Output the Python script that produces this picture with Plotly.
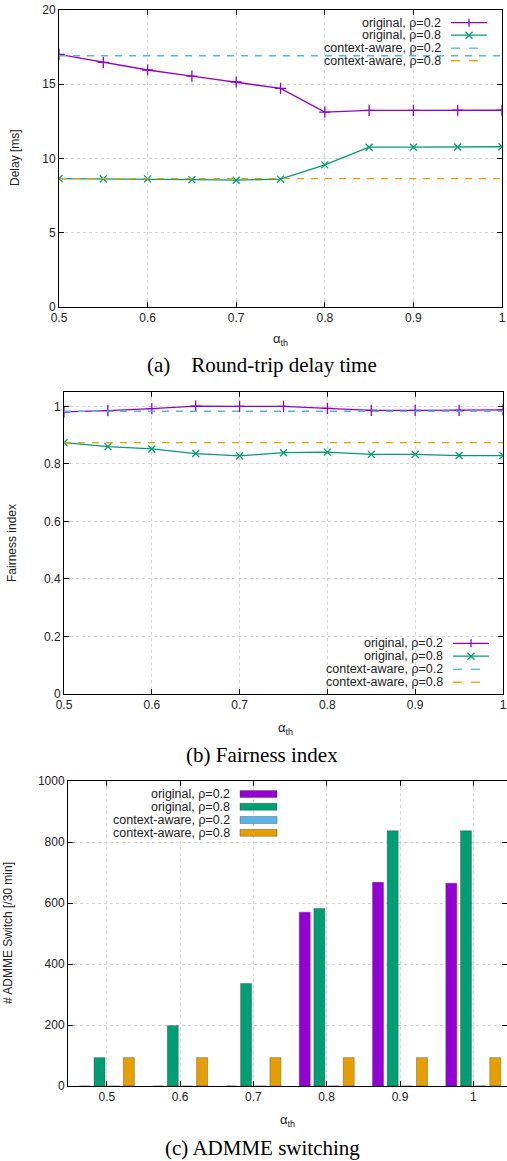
import plotly.graph_objects as go

# ---------------- data ----------------
alpha = [0.5, 0.55, 0.6, 0.65, 0.7, 0.75, 0.8, 0.85, 0.9, 0.95, 1.0]
alpha_ticks = [0.5, 0.6, 0.7, 0.8, 0.9, 1.0]
alpha_ticktext = ["0.5", "0.6", "0.7", "0.8", "0.9", "1"]

delay_orig_02 = [17.01, 16.47, 15.96, 15.55, 15.15, 14.72, 13.12, 13.24, 13.24, 13.25, 13.25]
delay_orig_08 = [8.65, 8.63, 8.63, 8.58, 8.54, 8.61, 9.57, 10.76, 10.76, 10.77, 10.79]
delay_ctx_02 = 16.92
delay_ctx_08 = 8.65

fair_orig_02 = [0.981, 0.985, 0.992, 1.001, 1.0, 1.0, 0.993, 0.986, 0.986, 0.986, 0.988]
fair_orig_08 = [0.874, 0.860, 0.852, 0.836, 0.828, 0.839, 0.841, 0.833, 0.833, 0.829, 0.829]
fair_ctx_02 = 0.983
fair_ctx_08 = 0.874

cats = ["0.5", "0.6", "0.7", "0.8", "0.9", "1"]
sw_orig_02 = [0, 0, 0, 570, 668, 665]
sw_orig_08 = [93, 198, 336, 582, 837, 837]
sw_ctx_02 = [0, 0, 0, 0, 0, 0]
sw_ctx_08 = [93, 93, 93, 93, 93, 93]

series_names = ["original, ρ=0.2", "original, ρ=0.8", "context-aware, ρ=0.2", "context-aware, ρ=0.8"]
PURPLE, GREEN, BLUE, ORANGE = "#9400D3", "#009E73", "#56B4E9", "#E69F00"

W, H = 507, 1161
def px(x):
    return x / W
def py(y):
    return 1 - y / H

SANS = "Liberation Sans, Arial, sans-serif"
SERIF = "Liberation Serif, Times New Roman, serif"
TXT = "#222222"

fig = go.Figure()

# ---------------- panel (a) ----------------
fig.add_trace(go.Scatter(x=alpha, y=delay_orig_02, mode="lines+markers", xaxis="x", yaxis="y",
                         line=dict(color=PURPLE, width=1.3),
                         marker=dict(symbol="cross-thin", size=8, line=dict(color=PURPLE, width=1.3)),
                         showlegend=False))
fig.add_trace(go.Scatter(x=alpha, y=delay_orig_08, mode="lines+markers", xaxis="x", yaxis="y",
                         line=dict(color=GREEN, width=1.3),
                         marker=dict(symbol="x-thin", size=7, line=dict(color=GREEN, width=1.3)),
                         showlegend=False))
fig.add_trace(go.Scatter(x=[alpha[0], alpha[-1]], y=[delay_ctx_02, delay_ctx_02], mode="lines",
                         xaxis="x", yaxis="y", line=dict(color=BLUE, width=1.3, dash="7px,7px"),
                         showlegend=False))
fig.add_trace(go.Scatter(x=[alpha[0], alpha[-1]], y=[delay_ctx_08, delay_ctx_08], mode="lines",
                         xaxis="x", yaxis="y", line=dict(color=ORANGE, width=1.3, dash="7px,7px"),
                         showlegend=False))

# ---------------- panel (b) ----------------
fig.add_trace(go.Scatter(x=alpha, y=fair_orig_02, mode="lines+markers", xaxis="x2", yaxis="y2",
                         line=dict(color=PURPLE, width=1.3),
                         marker=dict(symbol="cross-thin", size=8, line=dict(color=PURPLE, width=1.3)),
                         showlegend=False))
fig.add_trace(go.Scatter(x=alpha, y=fair_orig_08, mode="lines+markers", xaxis="x2", yaxis="y2",
                         line=dict(color=GREEN, width=1.3),
                         marker=dict(symbol="x-thin", size=7, line=dict(color=GREEN, width=1.3)),
                         showlegend=False))
fig.add_trace(go.Scatter(x=[alpha[0], alpha[-1]], y=[fair_ctx_02, fair_ctx_02], mode="lines",
                         xaxis="x2", yaxis="y2", line=dict(color=BLUE, width=1.3, dash="7px,7px"),
                         showlegend=False))
fig.add_trace(go.Scatter(x=[alpha[0], alpha[-1]], y=[fair_ctx_08, fair_ctx_08], mode="lines",
                         xaxis="x2", yaxis="y2", line=dict(color=ORANGE, width=1.3, dash="7px,7px"),
                         showlegend=False))

# ---------------- panel (c) ----------------
for vals, col in zip([sw_orig_02, sw_orig_08, sw_ctx_02, sw_ctx_08], [PURPLE, GREEN, BLUE, ORANGE]):
    fig.add_trace(go.Bar(x=cats, y=vals, xaxis="x3", yaxis="y3",
                         marker=dict(color=col, line=dict(color="rgba(60,60,60,0.6)", width=0.6)),
                         showlegend=False))

axis_common = dict(showline=True, linecolor="black", linewidth=1, mirror="ticks",
                   ticks="inside", ticklen=5, tickcolor="black", automargin=False,
                   ticklabeloverflow="allow",
                   showgrid=True, gridcolor="#d4d4d4", griddash="dot", gridwidth=1,
                   zeroline=False, tickfont=dict(family=SANS, size=12, color=TXT))

fig.update_layout(
    template="none",
    width=W, height=H, margin=dict(l=0, r=0, t=0, b=0, pad=0),
    paper_bgcolor="white", plot_bgcolor="white",
    barmode="group", bargap=0.2, bargroupgap=0.25,
    xaxis=dict(domain=[px(59), px(502)], anchor="y", range=[0.5, 1.0],
               tickvals=alpha_ticks, ticktext=alpha_ticktext, **axis_common),
    yaxis=dict(domain=[py(307), py(10)], anchor="x", range=[0, 20], dtick=5, **axis_common),
    xaxis2=dict(domain=[px(64), px(503)], anchor="y2", range=[0.5, 1.0],
                tickvals=alpha_ticks, ticktext=alpha_ticktext, **axis_common),
    yaxis2=dict(domain=[py(694), py(392)], anchor="x2", range=[0, 1.05], dtick=0.2, **axis_common),
    xaxis3=dict(domain=[px(68), px(507)], anchor="y3", type="category", range=[-0.53, 5.46], **axis_common),
    yaxis3=dict(domain=[py(1086), py(781)], anchor="x3", range=[0, 1000], dtick=200, **axis_common),
)

ann = []
shapes = []

# captions
for text, x, y in [("(a)&nbsp;&nbsp;&nbsp;&nbsp;Round-trip delay time", 262, 365),
                   ("(b) Fairness index", 262, 755),
                   ("(c) ADMME switching", 262, 1148)]:
    ann.append(dict(text=text, x=px(x), y=py(y), xref="paper", yref="paper", showarrow=False,
                    xanchor="center", yanchor="middle", font=dict(family=SERIF, size=21, color="black")))

# x-axis titles
for x, y in [(280, 340), (285, 728), (287, 1120)]:
    ann.append(dict(text="α<sub>th</sub>", x=px(x), y=py(y), xref="paper", yref="paper", showarrow=False,
                    xanchor="center", yanchor="middle", font=dict(family=SANS, size=13, color=TXT)))

# y-axis titles
for text, x, y in [("Delay [ms]", 15, 158), ("Fairness index", 12, 543), ("# ADMME Switch [/30 min]", 8, 933)]:
    ann.append(dict(text=text, x=px(x), y=py(y), xref="paper", yref="paper", showarrow=False, textangle=-90,
                    xanchor="center", yanchor="middle", font=dict(family=SANS, size=12, color=TXT)))

line_colors = [PURPLE, GREEN, BLUE, ORANGE]

def line_legend(text_right, x0, x1, rows):
    xm = (x0 + x1) / 2
    for i, (name, col, yy) in enumerate(zip(series_names, line_colors, rows)):
        ann.append(dict(text=name, x=px(text_right), y=py(yy), xref="paper", yref="paper", showarrow=False,
                        xanchor="right", yanchor="middle", font=dict(family=SANS, size=12.5, color=TXT)))
        if i < 2:
            shapes.append(dict(type="line", xref="paper", yref="paper", x0=px(x0), x1=px(x1), y0=py(yy), y1=py(yy),
                               line=dict(color=col, width=1.3)))
            s = 3.5
            if i == 0:
                shapes.append(dict(type="line", xref="paper", yref="paper", x0=px(xm), x1=px(xm),
                                   y0=py(yy - s - 0.5), y1=py(yy + s + 0.5), line=dict(color=col, width=1.3)))
            else:
                shapes.append(dict(type="line", xref="paper", yref="paper", x0=px(xm - s), x1=px(xm + s),
                                   y0=py(yy - s), y1=py(yy + s), line=dict(color=col, width=1.3)))
                shapes.append(dict(type="line", xref="paper", yref="paper", x0=px(xm - s), x1=px(xm + s),
                                   y0=py(yy + s), y1=py(yy - s), line=dict(color=col, width=1.3)))
        else:
            for a, b in [(x0, x0 + 9), (x0 + 18, x0 + 27)]:
                shapes.append(dict(type="line", xref="paper", yref="paper", x0=px(a), x1=px(b), y0=py(yy), y1=py(yy),
                                   line=dict(color=col, width=1.3)))

line_legend(443, 451, 487, [22.7, 35.2, 48.2, 60.7])
line_legend(445, 453, 489, [643.3, 656.2, 669.3, 682.3])

# bar legend
for name, col, yy in zip(series_names, line_colors, [794, 806.8, 820, 832.8]):
    ann.append(dict(text=name, x=px(232), y=py(yy), xref="paper", yref="paper", showarrow=False,
                    xanchor="right", yanchor="middle", font=dict(family=SANS, size=12.5, color=TXT)))
    shapes.append(dict(type="rect", xref="paper", yref="paper", x0=px(240), x1=px(277),
                       y0=py(yy - 3.5), y1=py(yy + 3.5), fillcolor=col,
                       line=dict(color="rgba(60,60,60,0.6)", width=0.6)))

fig.update_layout(annotations=ann, shapes=shapes)
fig.write_html("out.html", config={"displayModeBar": False},
               post_script="document.body.style.margin='0px';document.body.style.padding='0px';"
                           "document.body.style.overflow='hidden';")
